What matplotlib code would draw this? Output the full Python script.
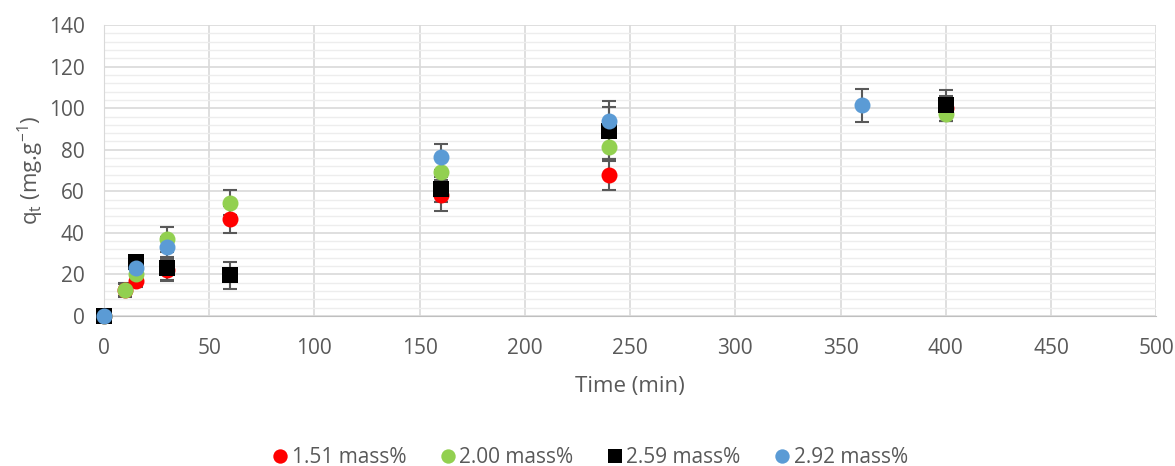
import matplotlib
matplotlib.use("Agg")
import matplotlib.pyplot as plt
from matplotlib.ticker import MultipleLocator

plt.rcParams['font.family'] = ['Open Sans', 'DejaVu Sans']

# Data
t_151 = [0, 10, 15, 30, 60, 160, 240, 400]
q_151 = [0, 12.5, 17, 22, 46.5, 58, 68, 100]
e_151 = [0, 3, 3, 5, 6.5, 7.5, 7.5, 6]

t_200 = [0, 10, 15, 30, 60, 160, 240, 400]
q_200 = [0, 12.5, 20, 37, 54.5, 69.5, 81.5, 97]
e_200 = [0, 3.5, 3, 6, 6, 6, 6, 3]

t_259 = [0, 15, 30, 60, 160, 240, 400]
q_259 = [0, 26, 23, 19.5, 61, 89, 101.5]
e_259 = [0, 3, 5.5, 6.3, 6, 14.5, 7.5]

t_292 = [0, 15, 30, 160, 240, 360]
q_292 = [0, 23, 33, 76.5, 94, 101.5]
e_292 = [0, 3, 5, 6.3, 6.5, 8]

labels = ['1.51 mass%', '2.00 mass%', '2.59 mass%', '2.92 mass%']
colors = ['#FF0000', '#92D050', '#000000', '#5B9BD5']

fig = plt.figure(figsize=(11.75, 4.66), dpi=100)
ax = fig.add_axes([0.0885, 0.322, 0.8955, 0.624])

series = [(t_151, q_151, e_151, 'o'), (t_200, q_200, e_200, 'o'),
          (t_259, q_259, e_259, 's'), (t_292, q_292, e_292, 'o')]
handles = []
for (t, q, e, m), lab, c in zip(series, labels, colors):
    ax.errorbar(t, q, yerr=e, fmt='none', ecolor='#595959', elinewidth=1.5,
                capsize=5, capthick=1.5, zorder=3)
    h, = ax.plot(t, q, linestyle='none', marker=m, color=c,
                 markersize=11.5 if m == 'o' else 11, markeredgewidth=0,
                 label=lab, zorder=4, clip_on=False)
    handles.append(h)

ax.set_xlim(0, 500)
ax.set_ylim(0, 140)
ax.xaxis.set_major_locator(MultipleLocator(50))
ax.yaxis.set_major_locator(MultipleLocator(20))
ax.yaxis.set_minor_locator(MultipleLocator(4))
ax.grid(True, which='major', color='#D9D9D9', linewidth=1.2, zorder=0)
ax.grid(True, which='minor', axis='y', color='#EDEDED', linewidth=1.0, zorder=0)
ax.set_axisbelow(True)
for s in ['top', 'right']:
    ax.spines[s].set_visible(False)
ax.spines['left'].set_color('#D9D9D9')
ax.spines['bottom'].set_color('#BFBFBF')
ax.tick_params(which='both', length=0, labelsize=15, colors='#595959')
ax.tick_params(axis='y', pad=14)
ax.tick_params(axis='x', pad=16)

ax.set_xlabel('Time (min)', fontsize=16, color='#595959', labelpad=12)
ax.set_ylabel(r'q$_\mathregular{t}$ (mg.g$^\mathregular{-1}$)', fontsize=16,
              color='#595959', labelpad=2)

fig.legend(handles=handles, labels=labels, loc='center', bbox_to_anchor=(0.502, 0.018),
           ncol=4, frameon=False, fontsize=15, labelcolor='#595959',
           handlelength=0.8, handletextpad=0.15, columnspacing=1.6, markerscale=0.9)

fig.savefig('out.png', dpi=100)
